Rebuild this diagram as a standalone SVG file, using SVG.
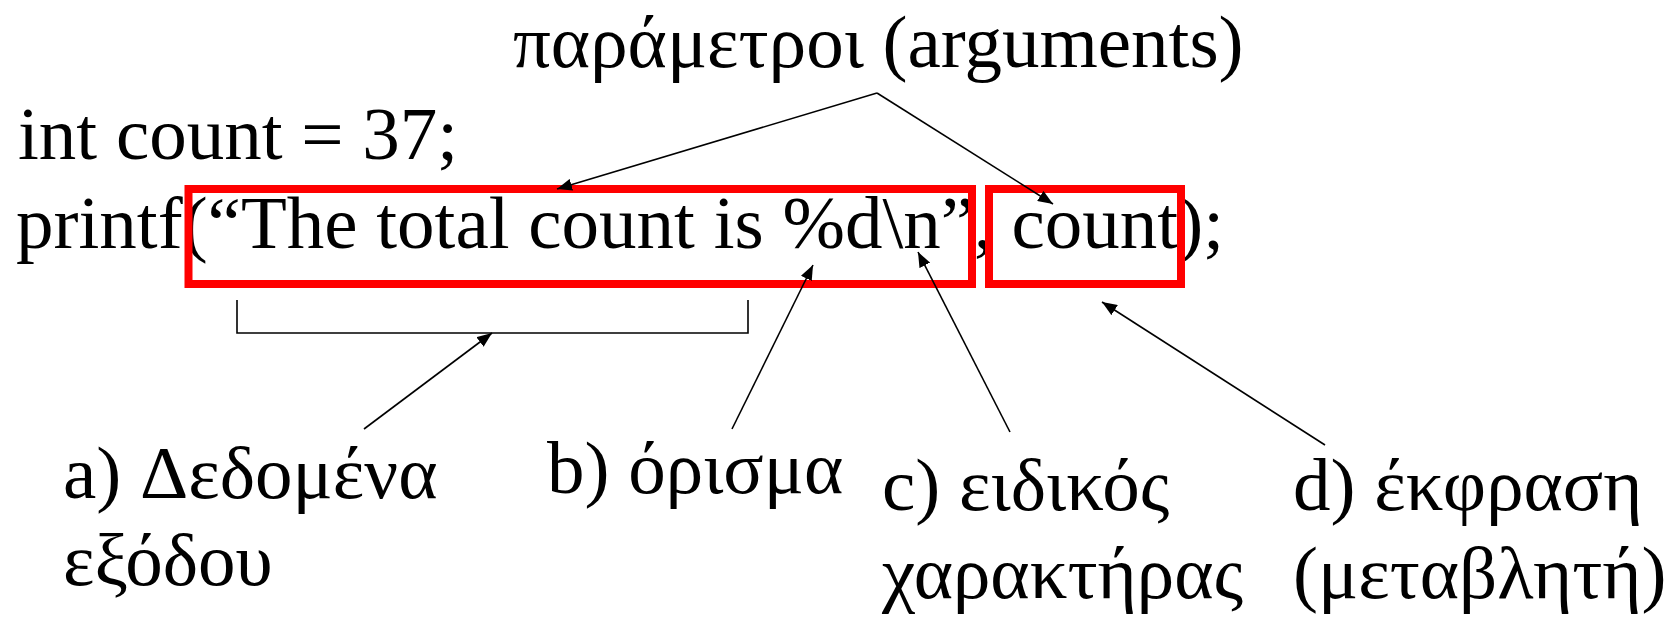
<svg xmlns="http://www.w3.org/2000/svg" width="1675" height="617" viewBox="0 0 1675 617">
<style>
text{font-family:"Liberation Serif","Times New Roman",serif;font-size:75px;fill:#000}
.box{fill:none;stroke:#ff0000;stroke-width:8}
.ln{fill:none;stroke:#000;stroke-width:1.6}
.arr{fill:none;stroke:#000;stroke-width:1.6;marker-end:url(#ah)}
</style>
<defs>
<marker id="ah" markerUnits="userSpaceOnUse" markerWidth="16" markerHeight="12" refX="15" refY="6" orient="auto">
<path d="M0,0 L15,6 L0,12 z" fill="#000"/>
</marker>
</defs>
<rect width="1675" height="617" fill="#fff"/>
<g id="title"><text x="513" y="67">παράμετροι (arguments)</text></g>
<g id="code">
<text x="18" y="159">int count = 37;</text>
<text x="16" y="248">printf(“The total count is %d\n”, count);</text>
</g>
<g id="box-format"><rect class="box" x="188.5" y="189" width="783.5" height="95"/></g>
<g id="box-count"><rect class="box" x="989" y="189" width="192" height="95"/></g>
<g id="bracket"><path class="ln" d="M237,300 V333 H748 V300"/></g>
<g id="label-a"><text x="63" y="498">a) Δεδομένα</text><text x="63" y="585">εξόδου</text></g>
<g id="label-b"><text x="547" y="493">b) όρισμα</text></g>
<g id="label-c"><text x="882" y="510">c) ειδικός</text><text x="882" y="598">χαρακτήρας</text></g>
<g id="label-d"><text x="1293" y="510">d) έκφραση</text><text x="1293" y="598">(μεταβλητή)</text></g>
<g id="connectors">
<line class="arr" x1="877" y1="93" x2="557" y2="189"/>
<line class="arr" x1="877" y1="93" x2="1053" y2="204"/>
<line class="arr" x1="364" y1="429" x2="492" y2="333"/>
<line class="arr" x1="732" y1="429" x2="813" y2="265"/>
<line class="arr" x1="1010" y1="432" x2="918" y2="252"/>
<line class="arr" x1="1325" y1="445" x2="1102" y2="302"/>
</g>
</svg>
